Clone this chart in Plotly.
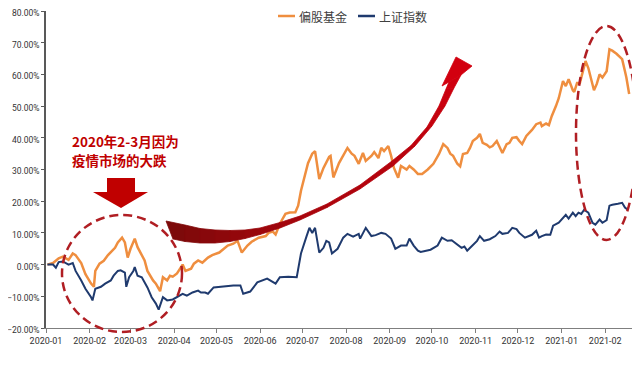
import plotly.graph_objects as go

# ---------------- data (cumulative return, %) ----------------
fund_dates = [
    "2020-01-02", "2020-01-06", "2020-01-10", "2020-01-13", "2020-01-17", "2020-01-20",
    "2020-01-22", "2020-01-26", "2020-01-29", "2020-02-02", "2020-02-04", "2020-02-05",
    "2020-02-08", "2020-02-11", "2020-02-14", "2020-02-17", "2020-02-19", "2020-02-21",
    "2020-02-24", "2020-02-26", "2020-02-28", "2020-03-01", "2020-03-03", "2020-03-04",
    "2020-03-06", "2020-03-09", "2020-03-11", "2020-03-13", "2020-03-17", "2020-03-19",
    "2020-03-22", "2020-03-24", "2020-03-27", "2020-03-29", "2020-03-31", "2020-04-03",
    "2020-04-07", "2020-04-09", "2020-04-13", "2020-04-15", "2020-04-18", "2020-04-21",
    "2020-04-25", "2020-04-28", "2020-05-03", "2020-05-09", "2020-05-13", "2020-05-16",
    "2020-05-19", "2020-05-23", "2020-05-26", "2020-05-31", "2020-06-05", "2020-06-07",
    "2020-06-10", "2020-06-12", "2020-06-15", "2020-06-19", "2020-06-22", "2020-06-26",
    "2020-06-28", "2020-06-30", "2020-07-03", "2020-07-05", "2020-07-08", "2020-07-10",
    "2020-07-13", "2020-07-16", "2020-07-20", "2020-07-21", "2020-07-23", "2020-07-27",
    "2020-08-02", "2020-08-05", "2020-08-07", "2020-08-10", "2020-08-13", "2020-08-15",
    "2020-08-19", "2020-08-21", "2020-08-24", "2020-08-26", "2020-08-28", "2020-08-31",
    "2020-09-02", "2020-09-04", "2020-09-07", "2020-09-09", "2020-09-13", "2020-09-15",
    "2020-09-18", "2020-09-21", "2020-09-24", "2020-09-28", "2020-10-02", "2020-10-06",
    "2020-10-09", "2020-10-12", "2020-10-14", "2020-10-16", "2020-10-19", "2020-10-21",
    "2020-10-23", "2020-10-26", "2020-10-28", "2020-10-30", "2020-11-02", "2020-11-04",
    "2020-11-06", "2020-11-09", "2020-11-11", "2020-11-13", "2020-11-16", "2020-11-18",
    "2020-11-20", "2020-11-23", "2020-11-25", "2020-11-27", "2020-11-30", "2020-12-02",
    "2020-12-04", "2020-12-07", "2020-12-09", "2020-12-11", "2020-12-14", "2020-12-17",
    "2020-12-18", "2020-12-21", "2020-12-23", "2020-12-25", "2020-12-28", "2020-12-30",
    "2021-01-02", "2021-01-04", "2021-01-06", "2021-01-09", "2021-01-10", "2021-01-12",
    "2021-01-14", "2021-01-16", "2021-01-18", "2021-01-20", "2021-01-23", "2021-01-24",
    "2021-01-26", "2021-01-28", "2021-01-30", "2021-02-02", "2021-02-04", "2021-02-06",
    "2021-02-09", "2021-02-13", "2021-02-15", "2021-02-16", "2021-02-18",
]
fund_values = [
    0.0, 0.5, 2.0, 2.5, 1.5, 3.5,
    3.0, 0.5, -3.0, -6.0, -7.0, -2.0,
    0.3, 1.2, 3.0, 4.4, 5.3, 7.0,
    8.5, 7.0, 2.2, 5.0, 7.5, 8.2,
    5.5, 3.0, 1.3, -2.0, -5.0, -6.0,
    -8.4, -4.0, -5.0, -3.5, -3.8, -2.8,
    0.0, -2.0, -1.3, 0.3, 1.3, 0.6,
    2.2, 3.0, 3.8, 6.0, 6.6, 7.5,
    3.8, 6.0, 7.2, 8.5, 9.0, 10.0,
    10.4, 9.5, 12.9, 16.0, 16.4, 16.5,
    18.6, 23.3, 28.6, 32.0, 35.0, 35.8,
    27.0, 30.5, 34.0, 34.3, 27.5, 32.0,
    36.8, 35.0, 34.3, 31.8, 35.2, 32.7,
    34.3, 35.5, 33.6, 36.8, 35.8, 37.4,
    34.3, 30.5, 27.4, 31.1, 30.0, 31.1,
    30.0, 28.6, 28.6, 30.0, 31.8, 34.9,
    38.0, 36.8, 35.0, 34.3, 31.8, 31.0,
    34.9, 35.2, 36.8, 39.0, 40.0, 41.2,
    38.4, 37.8, 37.0, 37.4, 39.0, 37.0,
    35.2, 38.0, 38.4, 40.0, 40.2, 39.0,
    38.0, 40.6, 41.5, 42.5, 44.3, 44.8,
    43.7, 44.5, 44.0, 46.8, 50.0, 52.5,
    57.9, 56.3, 58.5, 55.0, 54.5, 57.3,
    57.3, 60.4, 64.2, 62.0, 57.0, 55.0,
    57.0, 60.0, 59.0, 61.0, 67.9, 67.5,
    66.5, 64.8, 61.0, 59.0, 53.8,
]

index_dates = [
    "2020-01-02", "2020-01-06", "2020-01-08", "2020-01-10", "2020-01-13", "2020-01-17",
    "2020-01-20", "2020-01-22", "2020-01-26", "2020-01-29", "2020-02-02", "2020-02-03",
    "2020-02-05", "2020-02-09", "2020-02-12", "2020-02-16", "2020-02-18", "2020-02-21",
    "2020-02-23", "2020-02-26", "2020-02-27", "2020-02-29", "2020-03-03", "2020-03-04",
    "2020-03-06", "2020-03-09", "2020-03-13", "2020-03-16", "2020-03-19", "2020-03-21",
    "2020-03-24", "2020-03-27", "2020-03-31", "2020-04-03", "2020-04-07", "2020-04-10",
    "2020-04-14", "2020-04-18", "2020-04-20", "2020-04-23", "2020-04-25", "2020-04-29",
    "2020-05-03", "2020-05-06", "2020-05-13", "2020-05-18", "2020-05-20", "2020-05-25",
    "2020-05-30", "2020-06-06", "2020-06-12", "2020-06-15", "2020-06-21", "2020-06-27",
    "2020-06-30", "2020-07-04", "2020-07-06", "2020-07-08", "2020-07-10", "2020-07-13",
    "2020-07-16", "2020-07-18", "2020-07-20", "2020-07-22", "2020-07-26", "2020-07-30",
    "2020-08-02", "2020-08-06", "2020-08-10", "2020-08-11", "2020-08-15", "2020-08-19",
    "2020-08-22", "2020-08-26", "2020-08-29", "2020-09-02", "2020-09-05", "2020-09-09",
    "2020-09-13", "2020-09-15", "2020-09-18", "2020-09-21", "2020-09-23", "2020-09-30",
    "2020-10-05", "2020-10-08", "2020-10-12", "2020-10-15", "2020-10-19", "2020-10-22",
    "2020-10-24", "2020-10-26", "2020-10-29", "2020-11-02", "2020-11-04", "2020-11-07",
    "2020-11-11", "2020-11-15", "2020-11-18", "2020-11-20", "2020-11-24", "2020-11-27",
    "2020-11-30", "2020-12-02", "2020-12-06", "2020-12-09", "2020-12-11", "2020-12-14",
    "2020-12-16", "2020-12-18", "2020-12-21", "2020-12-24", "2020-12-26", "2020-12-30",
    "2021-01-02", "2021-01-04", "2021-01-06", "2021-01-09", "2021-01-11", "2021-01-13",
    "2021-01-15", "2021-01-17", "2021-01-20", "2021-01-23", "2021-01-25", "2021-01-28",
    "2021-01-30", "2021-02-02", "2021-02-04", "2021-02-06", "2021-02-10", "2021-02-13",
    "2021-02-15", "2021-02-17",
]
index_values = [
    0.0, 0.0, -1.0, 0.8, 1.0, 0.0,
    0.5, -2.0, -5.0, -7.6, -10.3, -11.3,
    -7.6, -7.0, -6.0, -5.0, -3.5, -2.0,
    -1.8, -2.5, -7.0, -4.0, -2.0, -0.8,
    -3.5, -4.0, -7.2, -10.3, -12.3, -14.2,
    -10.3, -11.3, -11.0, -10.3, -9.2, -9.8,
    -8.8, -8.2, -8.8, -8.8, -9.2, -7.2,
    -7.0, -7.0, -6.6, -6.6, -9.2, -8.5,
    -5.6, -4.4, -6.0, -4.0, -3.8, -4.0,
    3.5, 9.0, 11.6, 10.0, 11.6, 3.8,
    5.3, 7.5, 7.0, 3.5, 5.0, 8.5,
    9.7, 8.8, 9.7, 8.2, 11.6, 9.0,
    9.3, 10.0, 9.7, 8.2, 5.0, 6.0,
    6.0, 8.2, 6.0, 4.4, 4.0, 4.7,
    6.0, 8.5, 7.5, 7.7, 6.3, 5.3,
    5.7, 4.4, 5.7, 7.5, 9.0, 7.5,
    8.0, 9.0, 10.4, 9.7, 10.0, 11.6,
    11.2, 10.0, 8.5, 9.0, 9.4, 10.7,
    8.5, 9.0, 9.5, 9.4, 12.3, 13.2,
    14.8, 15.7, 14.5, 16.4, 15.3, 16.4,
    16.0, 17.3, 16.4, 13.2, 12.6, 14.2,
    13.2, 14.0, 18.6, 18.9, 19.2, 19.5,
    18.0, 17.3,
]

series_names = ["偏股基金", "上证指数"]
note_lines = ["2020年2-3月因为", "疫情市场的大跌"]

# ---------------- styling ----------------
ORANGE = "#EF8E3F"
NAVY = "#1F3A6E"
RED = "#C00000"
DASH_RED = "#B01E23"

# the page body adds an 8px margin; figure is sized to fit the 640x377 window
OFF = 8
W, H = 640 - OFF, 377 - OFF
ML, MR, MT, MB = 46 - OFF, 8, 11 - OFF, 49
PW, PH = W - ML - MR, H - MT - MB


def px(x):  # window pixel -> paper
    return (x - OFF - ML) / PW


def py(y):
    return (H - MB - (y - OFF)) / PH


def path(points):
    s = "M " + " L ".join(f"{px(a):.4f},{py(b):.4f}" for a, b in points)
    return s + " Z"


def mix(c1, c2, t):
    a = [int(c1[i:i + 2], 16) for i in (1, 3, 5)]
    b = [int(c2[i:i + 2], 16) for i in (1, 3, 5)]
    return "#" + "".join(f"{round(u + (v - u) * t):02x}" for u, v in zip(a, b))


fig = go.Figure()
fig.add_trace(go.Scatter(x=fund_dates, y=fund_values, name=series_names[0], mode="lines",
                         line=dict(color=ORANGE, width=2.5), showlegend=False))
fig.add_trace(go.Scatter(x=index_dates, y=index_values, name=series_names[1], mode="lines",
                         line=dict(color=NAVY, width=2), showlegend=False))

# curved arrow (decoration): pairs of (outer, inner) edge points, tail -> head
edge_pairs = [
    ((173, 239), (166, 221)), ((185, 241.5), (185, 225)), ((200, 243), (200, 228.5)),
    ((215, 243), (215, 230)), ((230, 241.5), (230, 230.5)), ((245, 238.5), (245, 230)),
    ((260, 234.5), (260, 228)), ((280, 228), (280, 222.5)), ((300, 220), (300, 216)),
    ((327, 207.5), (327, 204)), ((360, 189), (360, 185)), ((393, 166), (392, 161)),
    ((415, 146), (411, 145.5)), ((432, 126), (427, 127)), ((445, 106), (439, 106)),
    ((454, 88), (446, 89)), ((461, 75), (449, 82)),
]
head = [(449, 82), (442, 86), (456, 57), (472, 66), (461, 75)]
down_arrow = [(107, 178), (135, 178), (135, 192), (148, 192), (121, 208), (93, 192), (107, 192)]

C_TAIL, C_HEAD = "#7A0A0A", "#D2000F"
shapes = []
n = len(edge_pairs)
for i in range(n - 1):
    (o1, in1), (o2, in2) = edge_pairs[i], edge_pairs[i + 1]
    col = mix(C_TAIL, C_HEAD, (i + 0.5) / (n - 1))
    shapes.append(dict(type="path", xref="paper", yref="paper", path=path([o1, o2, in2, in1]),
                       fillcolor=col, line=dict(width=0.8, color=col), layer="above"))
shapes.append(dict(type="path", xref="paper", yref="paper", path=path(head),
                   fillcolor=C_HEAD, line=dict(width=0.8, color=C_HEAD), layer="above"))
shapes.append(dict(type="path", xref="paper", yref="paper", path=path(down_arrow),
                   fillcolor=RED, line=dict(width=0), layer="above"))
shapes.append(dict(type="circle", xref="paper", yref="paper", x0=px(62), x1=px(182),
                   y0=py(332), y1=py(215),
                   line=dict(color=DASH_RED, width=2.5, dash="9px,5px"), layer="above"))
shapes.append(dict(type="circle", xref="paper", yref="paper", x0=px(576), x1=px(637),
                   y0=py(240), y1=py(26),
                   line=dict(color=DASH_RED, width=2.5, dash="9px,5px"), layer="above"))

# legend drawn as line samples + labels
legend_items = [(series_names[0], ORANGE, 278), (series_names[1], NAVY, 358)]
annotations = []
for name, col, x0 in legend_items:
    shapes.append(dict(type="line", xref="paper", yref="paper", x0=px(x0), x1=px(x0 + 17),
                       y0=py(16), y1=py(16), line=dict(color=col, width=2.5)))
    annotations.append(dict(xref="paper", yref="paper", x=px(x0 + 19), y=py(16),
                            xanchor="left", yanchor="middle", text=name, showarrow=False,
                            font=dict(family="Noto Sans CJK SC", size=12, color="#404040")))

for t, y in zip(note_lines, [141, 160.5]):
    annotations.append(dict(xref="paper", yref="paper", x=px(70), y=py(y), xanchor="left",
                            yanchor="middle", text="<b>" + t + "</b>", showarrow=False,
                            font=dict(family="Noto Sans CJK SC", size=13.5, color=RED)))

fig.update_layout(
    width=W, height=H,
    margin=dict(l=ML, r=MR, t=MT, b=MB, autoexpand=False),
    paper_bgcolor="white", plot_bgcolor="white",
    font=dict(family="Roboto, Noto Sans CJK SC, sans-serif", color="#333333", size=9),
    showlegend=False,
    shapes=shapes,
    annotations=annotations,
)
fig.update_xaxes(
    type="date", range=["2020-01-01", "2021-02-20"], dtick="M1", tick0="2020-01-01",
    tickformat="%Y-%m", showgrid=False, zeroline=False, automargin=False,
    showline=True, linecolor="#7F7F7F", linewidth=1,
    ticks="outside", ticklen=4, tickcolor="#7F7F7F",
    tickfont=dict(family="Roboto", size=9, color="#333333"), ticklabeloverflow="allow",
)
fig.update_yaxes(
    range=[-20, 80], dtick=10, tickformat=".2f", ticksuffix="%",
    showgrid=False, zeroline=False, automargin=False,
    showline=True, linecolor="#595959", linewidth=1.5,
    ticks="outside", ticklen=3, tickcolor="#595959",
    tickfont=dict(family="Roboto", size=8.5, color="#333333"), ticklabeloverflow="allow",
    ticklabelshift=2,
)

fig.write_html("out.html")
